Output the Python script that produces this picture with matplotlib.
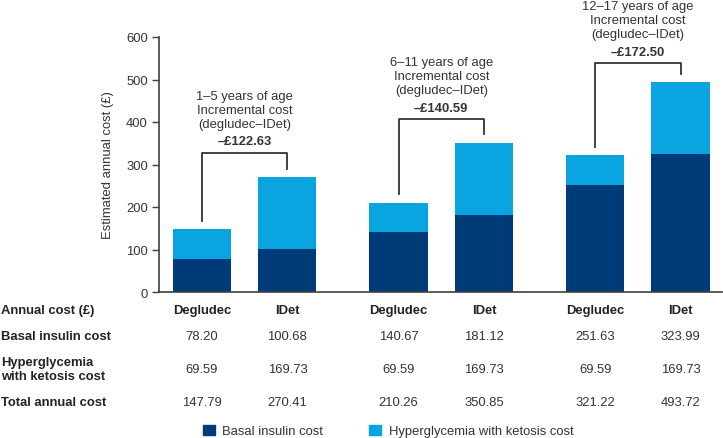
import matplotlib
matplotlib.use("Agg")
import matplotlib.pyplot as plt
import matplotlib.transforms as mtransforms
from matplotlib.patches import Patch

plt.rcParams['font.family'] = ['Liberation Sans', 'DejaVu Sans']
plt.rcParams['font.size'] = 9.4

# Data
ages = ["1\u20135 years of age", "6\u201311 years of age", "12\u201317 years of age"]
insulins = ["Degludec", "IDet", "Degludec", "IDet", "Degludec", "IDet"]
basal = [78.20, 100.68, 140.67, 181.12, 251.63, 323.99]
hyper = [69.59, 169.73, 69.59, 169.73, 69.59, 169.73]
total = [147.79, 270.41, 210.26, 350.85, 321.22, 493.72]
incremental = ["\u2013\u00a3122.63", "\u2013\u00a3140.59", "\u2013\u00a3172.50"]

dark = "#003B79"
light = "#0AA5E0"
text_col = "#333333"

pos = [0, 1, 2.3, 3.3, 4.6, 5.6]
# how far the bracket tops sit above the IDet bar
bracket_pad = [57, 56, 45]

fig = plt.figure(figsize=(7.23, 4.39), dpi=100)
ax = fig.add_axes([159 / 723, 1 - 293 / 439, 563 / 723, 255 / 439])

# Stacked bars
ax.bar(pos, basal, width=0.68, color=dark)
ax.bar(pos, hyper, width=0.68, bottom=basal, color=light)

ax.set_xlim(-0.503, 6.085)
ax.set_ylim(0, 600)
ax.set_yticks(range(0, 601, 100))
ax.set_xticks([])
ax.spines['top'].set_visible(False)
ax.spines['right'].set_visible(False)
for s in ['left', 'bottom']:
    ax.spines[s].set_color("#404040")
    ax.spines[s].set_linewidth(1.2)
ax.tick_params(axis='y', length=5, width=1, color="#404040", labelcolor=text_col, pad=3)
ax.set_ylabel("Estimated annual cost (\u00a3)", color=text_col, labelpad=9)

# Brackets with the incremental cost above each age group
for g in range(3):
    i, j = 2 * g, 2 * g + 1
    top = total[j] + bracket_pad[g]
    ax.plot([pos[i], pos[i], pos[j], pos[j]],
            [total[i] + 20, top, top, total[j] + 20],
            color="#333333", lw=1.3, clip_on=False)
    xc = (pos[i] + pos[j]) / 2
    ax.annotate(incremental[g], (xc, top), xytext=(0, 8.3), textcoords='offset points',
                ha='center', va='center', fontweight='bold', color=text_col,
                annotation_clip=False)
    ax.annotate(ages[g] + "\nIncremental cost\n(degludec\u2013IDet)", (xc, top),
                xytext=(0, 31), textcoords='offset points',
                ha='center', va='center', color=text_col, linespacing=1.25,
                annotation_clip=False)

# Table under the chart
trans = mtransforms.blended_transform_factory(ax.transData, fig.transFigure)
rows = [("Annual cost (\u00a3)", 311), ("Basal insulin cost", 337),
        ("Hyperglycemia\nwith ketosis cost", 370), ("Total annual cost", 403)]
for label, ypx in rows:
    fig.text(0.002, 1 - ypx / 439, label, ha='left', va='center',
             fontweight='bold', color="#222222", linespacing=1.2)

for k in range(6):
    ax.text(pos[k], 1 - 311 / 439, insulins[k], transform=trans, ha='center', va='center',
            fontweight='bold', color="#222222")
    ax.text(pos[k], 1 - 337 / 439, "%.2f" % basal[k], transform=trans, ha='center', va='center', color=text_col)
    ax.text(pos[k], 1 - 370 / 439, "%.2f" % hyper[k], transform=trans, ha='center', va='center', color=text_col)
    ax.text(pos[k], 1 - 403 / 439, "%.2f" % total[k], transform=trans, ha='center', va='center', color=text_col)

# Legend
handles = [Patch(color=dark, label="Basal insulin cost"),
           Patch(color=light, label="Hyperglycemia with ketosis cost")]
leg = fig.legend(handles=handles, loc='center', bbox_to_anchor=(388 / 723, 1 - 432 / 439),
                 ncol=2, frameon=False, handlelength=0.9, handleheight=0.9,
                 handletextpad=0.6, columnspacing=3.5, borderaxespad=0, borderpad=0)
for t in leg.get_texts():
    t.set_color(text_col)

fig.savefig("out.png", dpi=100)
